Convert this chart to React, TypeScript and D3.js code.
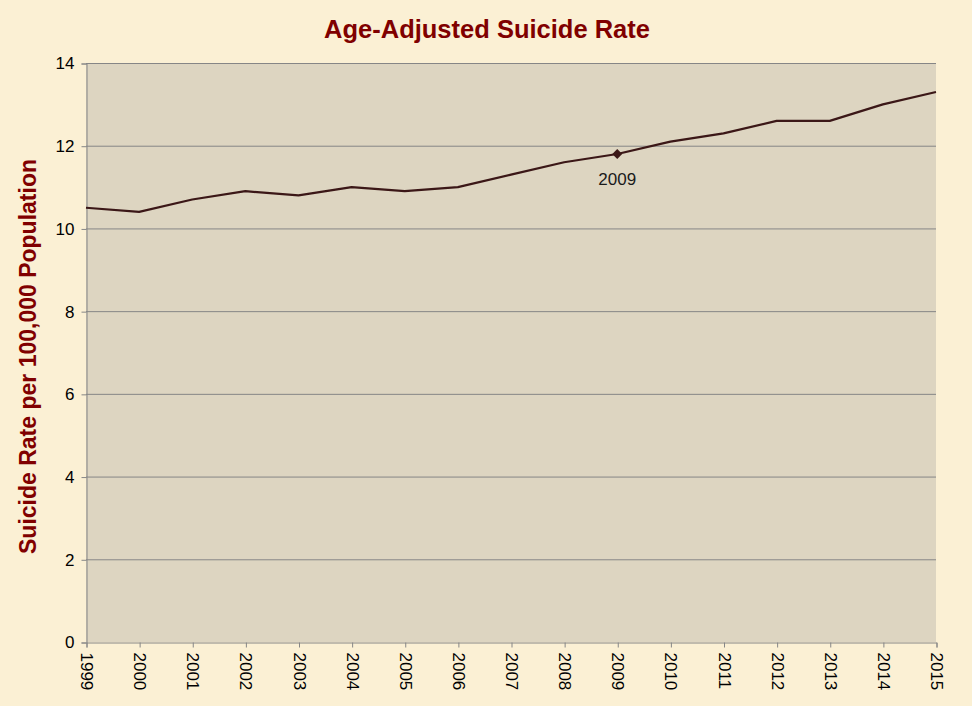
import React, { useRef, useEffect } from 'react';
import * as d3 from 'd3';

const years = [1999, 2000, 2001, 2002, 2003, 2004, 2005, 2006, 2007, 2008, 2009, 2010, 2011, 2012, 2013, 2014, 2015];
const rates = [10.5, 10.4, 10.7, 10.9, 10.8, 11.0, 10.9, 11.0, 11.3, 11.6, 11.8, 12.1, 12.3, 12.6, 12.6, 13.0, 13.3];
const yTicks = [0, 2, 4, 6, 8, 10, 12, 14];
const markedYear = 2009;

const W = 972;
const H = 706;
const margin = { left: 86, right: 36, top: 63, bottom: 64 };

export default () => {
  const svgRef = useRef<SVGSVGElement>(null);

  useEffect(() => {
    const svg = d3.select(svgRef.current);
    svg.selectAll('*').remove();

    const x = d3.scaleLinear().domain([1999, 2015]).range([margin.left, W - margin.right]);
    const y = d3.scaleLinear().domain([0, 14]).range([H - margin.bottom, margin.top]);

    // parchment background
    svg.append('rect').attr('width', W).attr('height', H).attr('fill', '#fbf0d4');

    // plot area
    svg
      .append('rect')
      .attr('x', x(1999))
      .attr('y', y(14))
      .attr('width', x(2015) - x(1999))
      .attr('height', y(0) - y(14))
      .attr('fill', '#ddd5c1');

    // gridlines
    svg
      .append('g')
      .selectAll('line')
      .data(yTicks.filter((t) => t > 0))
      .join('line')
      .attr('x1', x(1999))
      .attr('x2', x(2015))
      .attr('y1', (d) => y(d) + 0.5)
      .attr('y2', (d) => y(d) + 0.5)
      .attr('stroke', '#868686')
      .attr('stroke-width', 1);

    const font = 'Arial, "Liberation Sans", sans-serif';

    // y axis
    const yAxis = svg
      .append('g')
      .attr('transform', `translate(${x(1999) + 0.5},0.5)`)
      .call(d3.axisLeft(y).tickValues(yTicks).tickSize(5).tickPadding(7));
    yAxis.select('.domain').attr('stroke', '#868686');
    yAxis.selectAll('.tick line').attr('stroke', '#868686');
    yAxis.selectAll('text').attr('font-family', font).attr('font-size', 17).attr('fill', '#000');

    // x axis
    const xAxis = svg
      .append('g')
      .attr('transform', `translate(0.5,${y(0) + 0.5})`)
      .call(d3.axisBottom(x).tickValues(years).tickFormat(d3.format('d')).tickSize(5));
    xAxis.select('.domain').attr('stroke', '#868686');
    xAxis.selectAll('.tick line').attr('stroke', '#868686');
    xAxis
      .selectAll('text')
      .attr('font-family', font)
      .attr('font-size', 17)
      .attr('fill', '#000')
      .attr('text-anchor', 'start')
      .attr('dy', null)
      .attr('y', 0)
      .attr('transform', 'translate(-6,10) rotate(90)');

    // line
    const line = d3
      .line<number>()
      .x((_, i) => x(years[i]))
      .y((d) => y(d));
    svg
      .append('path')
      .datum(rates)
      .attr('d', line)
      .attr('fill', 'none')
      .attr('stroke', '#3b1717')
      .attr('stroke-width', 2.2)
      .attr('stroke-linejoin', 'round');

    // marker
    const mi = years.indexOf(markedYear);
    const mx = x(markedYear);
    const my = y(rates[mi]);
    svg
      .append('rect')
      .attr('x', -3.5)
      .attr('y', -3.5)
      .attr('width', 7)
      .attr('height', 7)
      .attr('transform', `translate(${mx},${my}) rotate(45)`)
      .attr('fill', '#3b1717');
    svg
      .append('text')
      .attr('x', mx)
      .attr('y', my + 31)
      .attr('text-anchor', 'middle')
      .attr('font-family', font)
      .attr('font-size', 17)
      .attr('fill', '#1a1a1a')
      .text(String(markedYear));

    // title
    svg
      .append('text')
      .attr('x', 487)
      .attr('y', 38)
      .attr('text-anchor', 'middle')
      .attr('font-family', font)
      .attr('font-weight', 'bold')
      .attr('font-size', 25.5)
      .attr('fill', '#800000')
      .text('Age-Adjusted Suicide Rate');

    // y title
    svg
      .append('text')
      .attr('transform', `translate(36,${(y(0) + y(14)) / 2 + 4}) rotate(-90)`)
      .attr('text-anchor', 'middle')
      .attr('font-family', font)
      .attr('font-weight', 'bold')
      .attr('font-size', 23)
      .attr('fill', '#800000')
      .text('Suicide Rate per 100,000 Population');
  }, []);

  return (
    <div style={{ position: 'absolute', left: 0, top: 0 }}>
      <svg width={W} height={H} ref={svgRef} style={{ display: 'block' }} />
    </div>
  );
};
